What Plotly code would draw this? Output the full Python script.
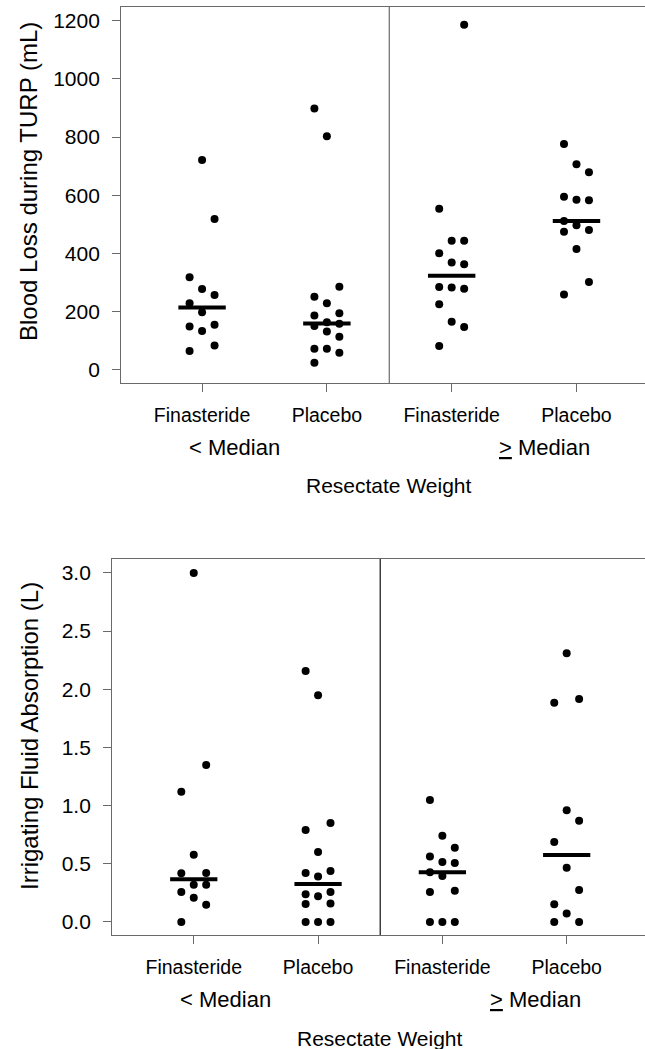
import plotly.graph_objects as go

# ---------------- data ----------------
group_labels = ["Finasteride", "Placebo", "Finasteride", "Placebo"]
stratum_labels = ["< Median", "<u>&gt;</u> Median"]
x_title = "Resectate Weight"
blood_title = "Blood Loss during TURP (mL)"
fluid_title = "Irrigating Fluid Absorption (L)"

blood_ticks = [0, 200, 400, 600, 800, 1000, 1200]
fluid_ticks = [0.0, 0.5, 1.0, 1.5, 2.0, 2.5, 3.0]
fluid_ticktext = ["0.0", "0.5", "1.0", "1.5", "2.0", "2.5", "3.0"]

# Blood loss (mL)
blood_fin_lo = [721, 519, 319, 278, 258, 229, 198, 149, 134, 155, 84, 65]
blood_pla_lo = [898, 803, 286, 252, 229, 195, 187, 151, 164, 159, 132, 114, 73, 73, 59, 25]
blood_fin_hi = [1186, 554, 444, 444, 401, 369, 363, 285, 283, 279, 226, 166, 148, 82]
blood_pla_hi = [776, 707, 679, 595, 585, 583, 512, 497, 475, 481, 416, 302, 259]
blood_medians = [215, 160, 324, 512]

# Irrigating fluid absorption (L)
fluid_fin_lo = [3.00, 1.35, 1.12, 0.578, 0.418, 0.421, 0.321, 0.321, 0.258, 0.209, 0.148, 0.0]
fluid_pla_lo = [2.158, 1.948, 0.851, 0.791, 0.602, 0.421, 0.390, 0.438, 0.238, 0.221, 0.258,
                0.155, 0.160, 0.0, 0.0, 0.0]
fluid_fin_hi = [1.049, 0.742, 0.639, 0.562, 0.516, 0.507, 0.427, 0.395, 0.258, 0.269, 0.0, 0.0, 0.0]
fluid_pla_hi = [2.309, 1.885, 1.917, 0.960, 0.871, 0.688, 0.467, 0.275, 0.152, 0.074, 0.0, 0.0]
fluid_medians = [0.368, 0.327, 0.427, 0.576]

# dot-plot column slots (-1 left, 0 centre, +1 right)
slot_blood = [
    [0, 1, -1, 0, 1, -1, 0, -1, 0, 1, 1, -1],
    [-1, 0, 1, -1, 0, 1, -1, -1, 0, 1, 0, 1, -1, 0, 1, -1],
    [1, -1, 0, 1, -1, 0, 1, -1, 0, 1, -1, 0, 1, -1],
    [-1, 0, 1, -1, 0, 1, -1, 0, -1, 1, 0, 1, -1],
]
slot_fluid = [
    [0, 1, -1, 0, -1, 1, 0, 1, -1, 0, 1, -1],
    [-1, 0, 1, -1, 0, -1, 0, 1, -1, 0, 1, -1, 1, -1, 0, 1],
    [-1, 0, 1, -1, 0, 1, -1, 0, -1, 1, -1, 0, 1],
    [0, -1, 1, 0, 1, -1, 0, 1, -1, 0, -1, 1],
]

# ---------------- layout geometry (pixels) ----------------
W, H = 645, 1049
FONT = "Liberation Sans, Arial, Helvetica, sans-serif"
LINE = "#6a6a6a"
SLOT_W = 0.1
MED_HALF = 0.19

panels = [
    dict(values=[blood_fin_lo, blood_pla_lo, blood_fin_hi, blood_pla_hi], slots=slot_blood,
         medians=blood_medians, left=120.7, top=6.7, bottom=383.0,
         xrange=[-0.652, 3.549], yrange=[-44.7, 1248.1],
         tickvals=blood_ticks, ticktext=[str(t) for t in blood_ticks],
         title=blood_title, title_y=182.0, divider_color=LINE),
    dict(values=[fluid_fin_lo, fluid_pla_lo, fluid_fin_hi, fluid_pla_hi], slots=slot_fluid,
         medians=fluid_medians, left=111.7, top=559.0, bottom=935.0,
         xrange=[-0.660, 3.630], yrange=[-0.1118, 3.120],
         tickvals=fluid_ticks, ticktext=fluid_ticktext,
         title=fluid_title, title_y=736.0, divider_color="#111111"),
]

fig = go.Figure()
annotations = []
shapes = []

for p_i, p in enumerate(panels):
    suffix = "" if p_i == 0 else str(p_i + 1)
    xa, ya = "x" + suffix, "y" + suffix
    for g_i, (vals, slots) in enumerate(zip(p["values"], p["slots"])):
        fig.add_trace(go.Scatter(
            x=[g_i + s * SLOT_W for s in slots], y=vals, mode="markers",
            marker=dict(size=8, color="black", line=dict(width=0)),
            xaxis=xa, yaxis=ya, showlegend=False, hoverinfo="y"))
        m = p["medians"][g_i]
        fig.add_trace(go.Scatter(
            x=[g_i - MED_HALF, g_i + MED_HALF], y=[m, m], mode="lines",
            line=dict(color="black", width=4), xaxis=xa, yaxis=ya,
            showlegend=False, hoverinfo="skip"))

    box_h = p["bottom"] - p["top"]
    xdom = [p["left"] / W, 1.0]
    ydom = [1 - p["bottom"] / H, 1 - p["top"] / H]
    fig.update_layout(**{
        "xaxis" + suffix: dict(
            domain=xdom, range=p["xrange"], anchor=ya,
            tickvals=[0, 1, 2, 3], ticktext=group_labels,
            tickfont=dict(family=FONT, size=19.5, color="black"),
            ticks="outside", ticklen=8, tickwidth=1.3, tickcolor=LINE,
            ticklabelstandoff=6,
            showline=True, linecolor=LINE, linewidth=1.3, mirror=True,
            showgrid=False, zeroline=False, fixedrange=True),
        "yaxis" + suffix: dict(
            domain=ydom, range=p["yrange"], anchor=xa,
            tickvals=p["tickvals"], ticktext=p["ticktext"],
            tickfont=dict(family=FONT, size=21, color="black"),
            ticks="outside", ticklen=7.5, tickwidth=1.3, tickcolor=LINE,
            ticklabelstandoff=8,
            showline=True, linecolor=LINE, linewidth=1.3, mirror=False,
            showgrid=False, zeroline=False, fixedrange=True),
    })

    # divider between the two resectate-weight strata
    shapes.append(dict(type="line", xref=xa, yref=ya + " domain", x0=1.5, x1=1.5, y0=0, y1=1,
                       line=dict(color=p["divider_color"], width=1.2)))

    # stratum labels and x title
    span = (W - p["left"]) / (p["xrange"][1] - p["xrange"][0])
    shift = 155.0 / span
    for s_i, lab in enumerate(stratum_labels):
        annotations.append(dict(
            text=lab, xref=xa, yref=ya + " domain", x=1.5 + (2 * s_i - 1) * shift,
            y=-64.5 / box_h, xanchor="center", yanchor="middle", showarrow=False,
            font=dict(family=FONT, size=22, color="black")))
    annotations.append(dict(
        text=x_title, xref=xa, yref=ya + " domain", x=1.5, y=-103.0 / box_h,
        xanchor="center", yanchor="middle", showarrow=False,
        font=dict(family=FONT, size=21, color="black")))
    # y title
    annotations.append(dict(
        text=p["title"], xref="paper", yref=ya + " domain", x=29.0 / W,
        y=(p["bottom"] - p["title_y"]) / box_h, xanchor="center", yanchor="middle",
        textangle=-90, showarrow=False, font=dict(family=FONT, size=24, color="black")))

fig.update_layout(
    width=W, height=H, margin=dict(l=0, r=0, t=0, b=0, pad=0),
    paper_bgcolor="white", plot_bgcolor="white",
    showlegend=False, annotations=annotations, shapes=shapes,
    font=dict(family=FONT, color="black"),
)

fig.write_html(
    "out.html",
    config={"displayModeBar": False, "staticPlot": False},
    post_script="document.body.style.margin='0';document.body.style.padding='0';"
                "document.body.style.overflow='hidden';",
)
